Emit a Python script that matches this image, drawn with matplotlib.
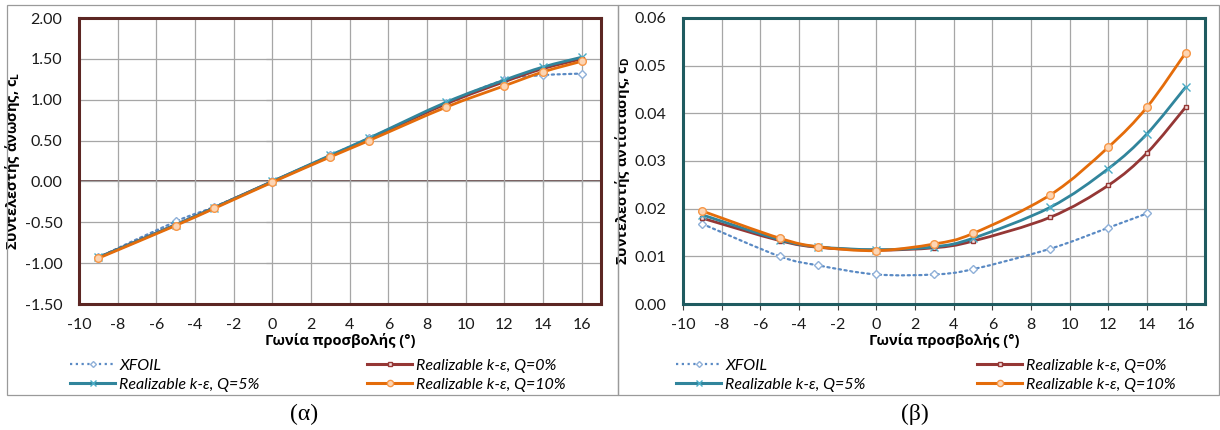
import numpy as np
import matplotlib
matplotlib.use("Agg")
import matplotlib.pyplot as plt
from matplotlib.path import Path
from matplotlib.patches import PathPatch, Rectangle
from matplotlib.lines import Line2D
from matplotlib.ticker import FormatStrFormatter, MultipleLocator

# angle of attack (deg)
alpha = [-9, -5, -3, 0, 3, 5, 9, 12, 14, 16]

# lift coefficient
cl_xfoil = [-0.93, -0.49, -0.31, 0.00, 0.32, 0.53, 0.96, 1.24, 1.30, 1.32]
cl_q0 = [-0.93, -0.53, -0.32, 0.00, 0.31, 0.52, 0.95, 1.22, 1.38, 1.50]
cl_q5 = [-0.93, -0.53, -0.32, 0.00, 0.32, 0.53, 0.97, 1.24, 1.40, 1.52]
cl_q10 = [-0.94, -0.54, -0.33, -0.01, 0.30, 0.50, 0.91, 1.17, 1.34, 1.47]

# drag coefficient (XFOIL has no point at 16 deg)
alpha_xf = [-9, -5, -3, 0, 3, 5, 9, 12, 14]
cd_xfoil = [0.0168, 0.0100, 0.0081, 0.0062, 0.0062, 0.0073, 0.0116, 0.0160, 0.0190]
cd_q0 = [0.0180, 0.0133, 0.0119, 0.0113, 0.0118, 0.0132, 0.0182, 0.0249, 0.0317, 0.0413]
cd_q5 = [0.0187, 0.0135, 0.0120, 0.0114, 0.0120, 0.0138, 0.0203, 0.0284, 0.0357, 0.0455]
cd_q10 = [0.0195, 0.0138, 0.0120, 0.0112, 0.0126, 0.0148, 0.0229, 0.0329, 0.0413, 0.0527]

labels = ["XFOIL", "Realizable k-ε, Q=0%", "Realizable k-ε, Q=5%", "Realizable k-ε, Q=10%"]

#line color, linestyle, marker, marker face, marker edge, marker size
STYLES = [
    ("#5a8ac4", (0, (1, 1.6)), "D", "white", "#8fb0d8", 4.0),
    ("#953735", "-", "s", "#f2dcdb", "#953735", 3.5),
    ("#31859c", "-", "x", "none", "#4bacc6", 5.5),
    ("#e46c0a", "-", "o", "#fcd5b4", "#f79646", 5.5),
]

FONT = ["Lato", "DejaVu Sans"]
GREEK = ["Open Sans", "DejaVu Sans"]
plt.rcParams["font.family"] = FONT
plt.rcParams["axes.unicode_minus"] = False


def smooth_path(x, y):
    # excel-like smoothed line: bezier segments with catmull-rom controls
    p = np.column_stack([x, y]).astype(float)
    n = len(p)
    verts = [p[0]]
    codes = [Path.MOVETO]
    for i in range(n - 1):
        p0 = p[i - 1] if i > 0 else p[i]
        p3 = p[i + 2] if i + 2 < n else p[i + 1]
        c1 = p[i] + (p[i + 1] - p0) / 6.0
        c2 = p[i + 1] - (p3 - p[i]) / 6.0
        verts += [c1, c2, p[i + 1]]
        codes += [Path.CURVE4] * 3
    return Path(verts, codes)


def draw_series(ax, x, y, st, z):
    color, ls, mk, mface, medge, ms = st
    lw = 1.6 if ls != "-" else 2.0
    patch = PathPatch(smooth_path(x, y), facecolor="none", edgecolor=color,
                      linewidth=lw, linestyle=ls, zorder=z,
                      capstyle="round" if ls != "-" else "butt")
    ax.add_patch(patch)
    ax.plot(x, y, linestyle="none", marker=mk, markersize=ms,
            markerfacecolor=mface, markeredgecolor=medge,
            markeredgewidth=1.0, zorder=z + 0.5)


def setup_axes(ax, ymin, ymax, ystep, frame_color, ylabel):
    ax.set_xlim(-10, 17)
    ax.set_ylim(ymin, ymax)
    ax.yaxis.set_major_locator(MultipleLocator(ystep))
    ax.set_xticks(np.arange(-10, 17, 2))
    ax.yaxis.set_major_formatter(FormatStrFormatter("%.2f"))
    ax.grid(True, color="#a6a6a6", linewidth=0.9)
    ax.set_axisbelow(True)
    for s in ax.spines.values():
        s.set_color(frame_color)
        s.set_linewidth(2.2)
    ax.tick_params(length=0, labelsize=11.5, colors="#1a1a1a")
    ax.tick_params(axis="x", pad=10)
    ax.tick_params(axis="y", pad=12)
    ax.set_xlabel("Γωνία προσβολής (°)", family=GREEK, fontweight="bold",
                  fontsize=10.5, labelpad=1)
    ax.set_ylabel(ylabel, family=GREEK, fontweight="bold", fontsize=10.5, labelpad=2)

    # value axes crossing at zero with small tick marks
    fy = (0 - ymin) / (ymax - ymin)
    sx = ax.secondary_xaxis(fy)
    sx.set_xticks(np.arange(-10, 17, 2))
    sx.tick_params(direction="out", length=4, width=0.8, color="#404040",
                   labelbottom=False, labeltop=False)
    sx.spines["bottom"].set_color("#5a3a3a" if ymin < 0 else frame_color)
    sx.spines["bottom"].set_linewidth(1.2 if ymin < 0 else 0)
    fx = (0 - (-10)) / 27.0
    sy = ax.secondary_yaxis(fx)
    sy.set_yticks(np.arange(ymin, ymax + ystep / 2, ystep))
    sy.tick_params(direction="out", length=4, width=0.8, color="#404040",
                   labelleft=False, labelright=False)
    sy.spines["left"].set_linewidth(0)


fig = plt.figure(figsize=(12.2, 4.3), dpi=100)

# outer chart borders
fig.patches.append(Rectangle((7 / 1220, 1 - 395 / 430), 611 / 1220, 390 / 430,
                             transform=fig.transFigure, fill=False,
                             edgecolor="#9a9a9a", linewidth=0.9))
fig.patches.append(Rectangle((618 / 1220, 1 - 395 / 430), 601 / 1220, 390 / 430,
                             transform=fig.transFigure, fill=False,
                             edgecolor="#9a9a9a", linewidth=0.9))

ax1 = fig.add_axes([79 / 1220, 1 - 304 / 430, 522 / 1220, 286 / 430])
ax2 = fig.add_axes([683 / 1220, 1 - 304 / 430, 522 / 1220, 286 / 430])

setup_axes(ax1, -1.5, 2.0, 0.5, "#5c2623", "Συντελεστής άνωσης, c$_\\mathregular{L}$")
setup_axes(ax2, 0.0, 0.06, 0.01, "#1f5b60", "Συντελεστής αντίστασης, c$_\\mathregular{D}$")

cl_all = [cl_xfoil, cl_q0, cl_q5, cl_q10]
for k, (y, st) in enumerate(zip(cl_all, STYLES)):
    draw_series(ax1, alpha, y, st, 3 + k)

draw_series(ax2, alpha_xf, cd_xfoil, STYLES[0], 3)
for k, (y, st) in enumerate(zip([cd_q0, cd_q5, cd_q10], STYLES[1:])):
    draw_series(ax2, alpha, y, st, 4 + k)

# legend handles
handles = []
for st in STYLES:
    color, ls, mk, mface, medge, ms = st
    handles.append(Line2D([], [], color=color, linestyle=ls,
                          linewidth=1.6 if ls != "-" else 2.2,
                          marker=mk, markersize=ms - 1, markerfacecolor=mface,
                          markeredgecolor=medge, markeredgewidth=1.0))
order = [0, 2, 1, 3]
for x0, x1 in [(64, 572), (670, 1182)]:
    fig.legend([handles[i] for i in order], [labels[i] for i in order],
               loc="upper left", ncol=2, mode="expand",
               bbox_to_anchor=(x0 / 1220, 1 - 352 / 430, (x1 - x0) / 1220, 0),
               borderaxespad=0, frameon=False, handlelength=2.8,
               handletextpad=0.25, labelspacing=0.3, numpoints=1,
               prop={"family": FONT, "style": "italic", "size": 11.5})

fig.text(304 / 1220, 1 - 414 / 430, "(α)", ha="center", va="center",
         family="Liberation Serif", fontsize=17)
fig.text(915 / 1220, 1 - 414 / 430, "(β)", ha="center", va="center",
         family="Liberation Serif", fontsize=17)

fig.savefig("out.png", dpi=100)
